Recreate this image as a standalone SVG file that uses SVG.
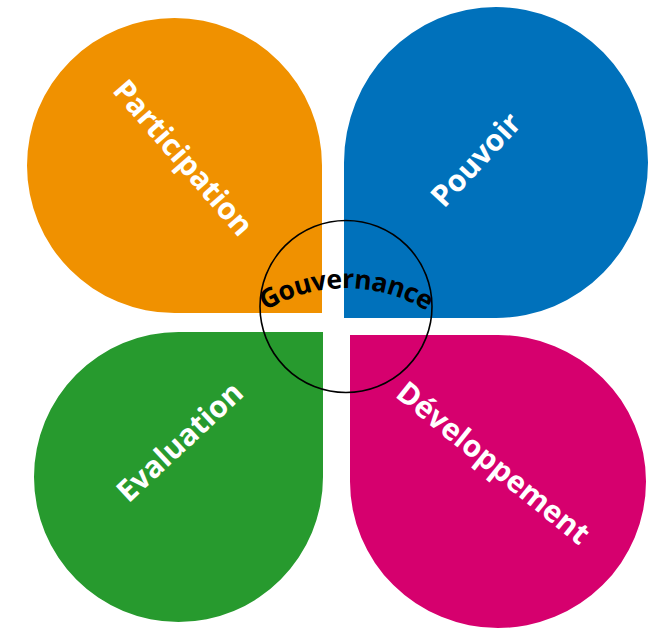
<svg xmlns="http://www.w3.org/2000/svg" width="657" height="629" viewBox="0 0 657 629">
<style>
.lbl{font-family:"Open Sans","Liberation Sans",sans-serif;font-weight:bold;font-size:30px;fill:#ffffff;text-anchor:middle;dominant-baseline:central}
.gov{font-family:"Open Sans","Liberation Sans",sans-serif;font-weight:bold;font-size:26.5px;fill:#000000;letter-spacing:-0.6px}
</style>
<defs>
<path id="govArc" d="M235,335 A155,155 0 0 1 457,335"/>
</defs>
<rect width="657" height="629" fill="#ffffff"/>
<g id="participation">
<path d="M322,313 L174.5,313 A147.5,147.5 0 0 1 27,165.5 A147.5,147.5 0 0 1 174.5,18 A147.5,147.5 0 0 1 322,165.5 Z" fill="#F09100"/>
<text class="lbl" transform="translate(184,157) rotate(49)">Participation</text>
</g>
<g id="pouvoir">
<path d="M344,318 L344,162.5 A152,155.5 0 0 1 496,7 A152,155.5 0 0 1 648,162.5 A152,155.5 0 0 1 496,318 Z" fill="#0071BB"/>
<text class="lbl" transform="translate(475,159) rotate(-47)">Pouvoir</text>
</g>
<g id="evaluation">
<path d="M323,332 L323,477 A144.5,145 0 0 1 178.5,622 A144.5,145 0 0 1 34,477 A144.5,145 0 0 1 178.5,332 Z" fill="#279A2E"/>
<text class="lbl" transform="translate(179,441) rotate(-43)">Evaluation</text>
</g>
<g id="developpement">
<path d="M350,335 L498,335 A148,146.5 0 0 1 646,481.5 A148,146.5 0 0 1 498,628 A148,146.5 0 0 1 350,481.5 Z" fill="#D6006E"/>
<text class="lbl" transform="translate(494,462) rotate(39)">Développement</text>
</g>
<g id="gouvernance">
<circle cx="346" cy="306.5" r="86" fill="none" stroke="#000000" stroke-width="1.6"/>
<text class="gov"><textPath href="#govArc" startOffset="50%" text-anchor="middle">Gouvernance</textPath></text>
</g>
</svg>
